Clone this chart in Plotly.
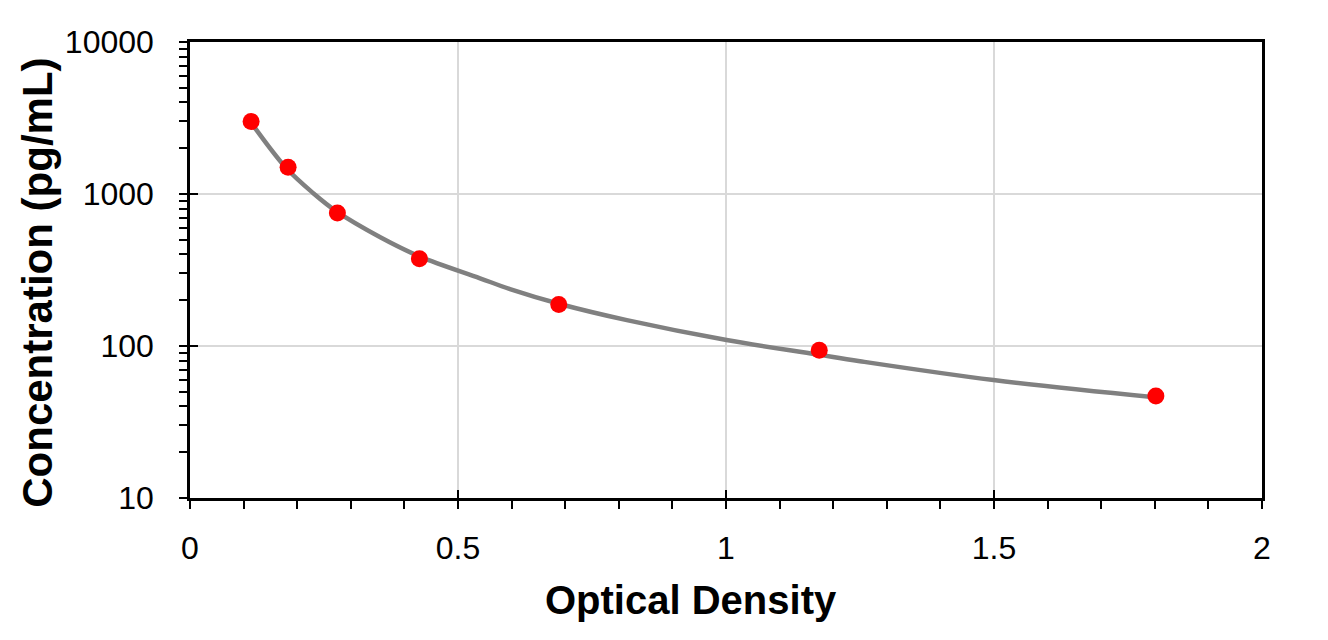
import plotly.graph_objects as go

# Standard points
od = [0.114, 0.183, 0.275, 0.428, 0.688, 1.174, 1.802]
conc = [3000, 1500, 750, 375, 187.5, 93.75, 46.875]

# Fitted curve
curve_x = [0.115, 0.180, 0.230, 0.274, 0.355, 0.429, 0.541, 0.597, 0.690, 0.815, 1.001, 1.169, 1.250, 1.499, 1.800]
curve_y = [2918, 1476, 1012, 765, 519, 387, 279, 237, 189, 148, 109.5, 88.1, 79.4, 59.7, 46.0]

y_major = [10, 100, 1000, 10000]
y_major_text = ["10", "100", "1000", "10000"]
y_minor = [m * d for d in [10, 100, 1000] for m in range(2, 10)]
x_major = [0, 0.5, 1, 1.5, 2]
x_major_text = ["0", "0.5", "1", "1.5", "2"]
x_minor = [i / 10 for i in range(21)]

tick_font = dict(family="Liberation Sans, Arial", size=32, color="black")
ytitle_font = dict(family="Liberation Sans, Arial", size=42, color="black")
xtitle_font = dict(family="Liberation Sans, Arial", size=40, color="black")

fig = go.Figure()
fig.add_trace(go.Scatter(x=curve_x, y=curve_y, mode="lines",
                         line=dict(color="#808080", width=4.5, shape="spline", smoothing=1),
                         showlegend=False, hoverinfo="skip"))
fig.add_trace(go.Scatter(x=od, y=conc, mode="markers", marker=dict(color="#ff0000", size=17),
                         showlegend=False))

fig.update_layout(
    width=1328, height=640,
    margin=dict(l=190, r=66, t=42, b=142),
    plot_bgcolor="white", paper_bgcolor="white",
    xaxis=dict(range=[0, 2], tickvals=x_major, ticktext=x_major_text, ticks="outside", ticklen=8, tickwidth=2,
               tickcolor="black", showgrid=True, gridcolor="#d9d9d9", gridwidth=2, zeroline=False,
               showline=True, linecolor="black", linewidth=2.5, mirror=True, tickfont=tick_font,
               ticklabelstandoff=12,
               minor=dict(tickvals=x_minor, ticks="outside", ticklen=8, tickwidth=2, tickcolor="black", showgrid=False)),
    xaxis2=dict(range=[0, 2], overlaying="x", anchor="y", side="bottom", tickvals=x_major, ticks="inside",
                ticklen=8, tickwidth=2, tickcolor="black", showticklabels=False, showgrid=False,
                zeroline=False, showline=False),
    yaxis=dict(type="log", range=[1, 4], tickvals=y_major, ticktext=y_major_text, ticks="outside", ticklen=8,
               tickwidth=2, tickcolor="black", showgrid=True, gridcolor="#d9d9d9", gridwidth=2, zeroline=False,
               showline=True, linecolor="black", linewidth=2.5, mirror=True, tickfont=tick_font,
               ticklabelstandoff=19,
               minor=dict(tickvals=y_minor, ticks="outside", ticklen=8, tickwidth=2, tickcolor="black", showgrid=False)),
    yaxis2=dict(type="log", range=[1, 4], overlaying="y", anchor="x", side="left", tickvals=y_major, ticks="inside",
                ticklen=8, tickwidth=2, tickcolor="black", showticklabels=False, showgrid=False,
                zeroline=False, showline=False),
    annotations=[
        dict(text="<b>Optical Density</b>", xref="paper", yref="paper", x=0.4674, y=-0.2237,
             xanchor="center", yanchor="middle", showarrow=False, font=xtitle_font),
        dict(text="<b>Concentration (pg/mL)</b>", xref="paper", yref="paper", x=-0.1418, y=0.472,
             xanchor="center", yanchor="middle", showarrow=False, textangle=-90, font=ytitle_font),
    ],
)
fig.add_trace(go.Scatter(x=[None], y=[None], xaxis="x2", yaxis="y2", showlegend=False, hoverinfo="skip"))

fig.write_html("out.html")
